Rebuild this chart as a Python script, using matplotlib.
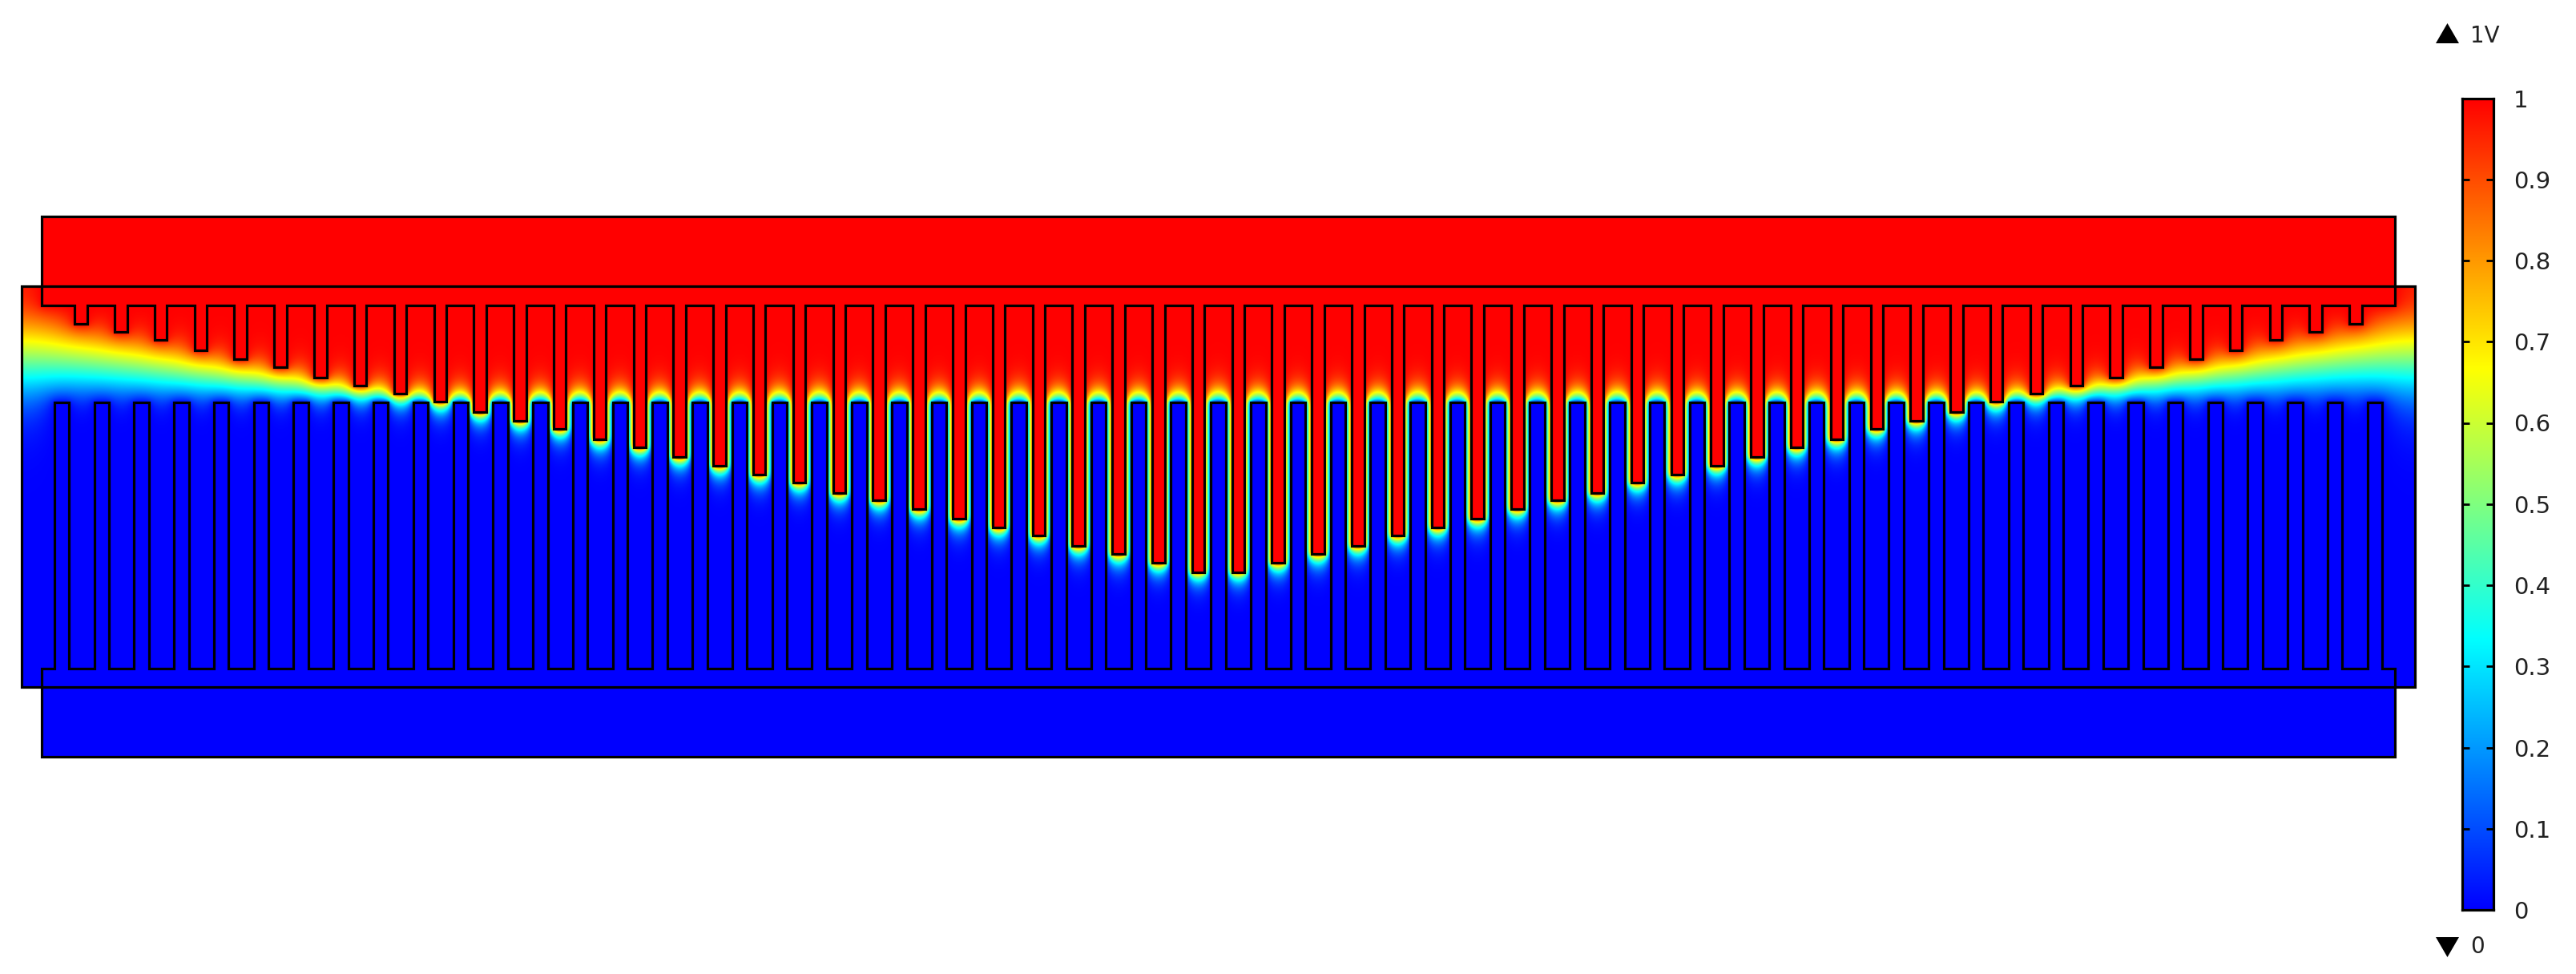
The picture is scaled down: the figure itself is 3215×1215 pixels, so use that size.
import numpy as np
import matplotlib
matplotlib.use("Agg")
import matplotlib.pyplot as plt
from matplotlib.colors import LinearSegmentedColormap
from matplotlib.patches import Polygon, Rectangle

half_tip_y = [404, 414, 424, 437, 448, 458, 471, 481, 491, 501, 514, 525, 535, 548, 558,
              570, 581, 592, 602, 615, 624, 635, 647, 658, 668, 681, 691, 702, 713.5]
top_tip_y = half_tip_y + half_tip_y[::-1]
n_top = len(top_tip_y)
n_bottom = n_top + 1
first_top_x, last_top_x = 101.0, 2940.0
first_bottom_x, last_bottom_x = 77.0, 2964.0
top_w, bottom_w = 15.5, 18.5
bottom_tip_y = 502.0
top_base_y, bottom_base_y = 381.0, 834.0
top_rect = (52.0, 2989.0, 270.0)
bottom_rect = (52.0, 2989.0, 944.0)
domain = (27.0, 3014.0, 357.0, 857.0)
cbar_ticks = [0, 0.1, 0.2, 0.3, 0.4, 0.5, 0.6, 0.7, 0.8, 0.9, 1]
cbar_ticklabels = ["0", "0.1", "0.2", "0.3", "0.4", "0.5", "0.6", "0.7", "0.8", "0.9", "1"]
max_label, min_label = "1V", "0"
potential_top, potential_bottom = 1.0, 0.0

W, H = 3215, 1215
cmap = LinearSegmentedColormap.from_list(
    "rainbow_comsol",
    [(0, (0, 0, 1)), (1 / 3, (0, 1, 1)), (2 / 3, (1, 1, 0)), (1, (1, 0, 0))], N=512)

top_cx = np.linspace(first_top_x, last_top_x, n_top)
bot_cx = np.linspace(first_bottom_x, last_bottom_x, n_bottom)


def masks(h):
    x0, x1, y0, y1 = domain
    nx, ny = int(round((x1 - x0) / h)), int(round((y1 - y0) / h))
    xc = x0 + (np.arange(nx) + 0.5) * (x1 - x0) / nx
    yc = y0 + (np.arange(ny) + 0.5) * (y1 - y0) / ny
    X, Y = np.meshgrid(xc, yc)
    top = (Y < top_base_y) & (X > top_rect[0]) & (X < top_rect[1])
    bot = (Y > bottom_base_y) & (X > bottom_rect[0]) & (X < bottom_rect[1])
    for cx, tip in zip(top_cx, top_tip_y):
        i0, i1 = np.searchsorted(xc, [cx - top_w / 2, cx + top_w / 2])
        top[:np.searchsorted(yc, tip), i0:i1] = True
    for cx in bot_cx:
        i0, i1 = np.searchsorted(xc, [cx - bottom_w / 2, cx + bottom_w / 2])
        bot[np.searchsorted(yc, bottom_tip_y):, i0:i1] = True
    return xc, yc, top, bot


def solve():
    # potential between the two electrodes, relaxed on the drawn geometry
    u = None
    prev = None
    for h, iters, omega in [(4, 1400, 1.93), (2, 350, 1.85), (1, 100, 1.7)]:
        xc, yc, top, bot = masks(h)
        if u is None:
            u = np.tile(((domain[3] - yc) / (domain[3] - domain[2]))[:, None], (1, xc.size))
        else:
            pxc, pyc = prev
            ix = np.clip(np.searchsorted(pxc, xc), 0, pxc.size - 1)
            iy = np.clip(np.searchsorted(pyc, yc), 0, pyc.size - 1)
            u = u[np.ix_(iy, ix)]
        prev = (xc, yc)
        u[top] = potential_top
        u[bot] = potential_bottom
        free = ~(top | bot)
        yy, xx = np.indices(u.shape)
        red = free & ((xx + yy) % 2 == 0)
        blk = free & ((xx + yy) % 2 == 1)
        for _ in range(iters):
            for m in (red, blk):
                p = np.pad(u, 1, mode="edge")
                nb = (p[:-2, 1:-1] + p[2:, 1:-1] + p[1:-1, :-2] + p[1:-1, 2:]) * 0.25
                u[m] += omega * (nb[m] - u[m])
    return u


field = solve()

fig = plt.figure(figsize=(W / 100, H / 100), dpi=100, facecolor="white")
ax = fig.add_axes([0, 0, 1, 1])
ax.imshow(field, extent=(domain[0], domain[1], domain[3], domain[2]), cmap=cmap, vmin=0, vmax=1,
          interpolation="bilinear", aspect="auto", zorder=1)
ax.set_xlim(0, W)
ax.set_ylim(H, 0)
ax.axis("off")

lw = 2.3
top_poly = [(top_rect[0], top_rect[2]), (top_rect[1], top_rect[2]), (top_rect[1], top_base_y)]
for cx, tip in zip(top_cx[::-1], top_tip_y[::-1]):
    top_poly += [(cx + top_w / 2, top_base_y), (cx + top_w / 2, tip),
                 (cx - top_w / 2, tip), (cx - top_w / 2, top_base_y)]
top_poly.append((top_rect[0], top_base_y))
ax.add_patch(Polygon(top_poly, closed=True, facecolor=cmap(potential_top), edgecolor="black",
                     lw=lw, joinstyle="miter", zorder=2))

bot_poly = [(bottom_rect[0], bottom_rect[2]), (bottom_rect[1], bottom_rect[2]),
            (bottom_rect[1], bottom_base_y)]
for cx in bot_cx[::-1]:
    bot_poly += [(cx + bottom_w / 2, bottom_base_y), (cx + bottom_w / 2, bottom_tip_y),
                 (cx - bottom_w / 2, bottom_tip_y), (cx - bottom_w / 2, bottom_base_y)]
bot_poly.append((bottom_rect[0], bottom_base_y))
ax.add_patch(Polygon(bot_poly, closed=True, facecolor=cmap(potential_bottom), edgecolor="black",
                     lw=lw, joinstyle="miter", zorder=2))

ax.add_patch(Rectangle((domain[0], domain[2]), domain[1] - domain[0], domain[3] - domain[2],
                       fill=False, edgecolor="black", lw=lw, joinstyle="miter", zorder=3))

ax.add_patch(Polygon([(3040, 54), (3054.5, 29), (3069, 54)], closed=True, facecolor="black",
                     edgecolor="none", zorder=3))
ax.add_patch(Polygon([(3040, 1169), (3054.5, 1194), (3069, 1169)], closed=True, facecolor="black",
                     edgecolor="none", zorder=3))
ax.text(3083, 45, max_label, fontsize=20, va="center", ha="left", color="#222222")
ax.text(3083, 1181, min_label, fontsize=20, va="center", ha="left", color="#222222")

cax = fig.add_axes([3073 / W, 1 - 1135 / H, (3112 - 3073) / W, (1135 - 122.5) / H])
grad = np.linspace(0, 1, 512)[:, None]
cax.imshow(grad, origin="lower", extent=(0, 1, 0, 1), aspect="auto", cmap=cmap, vmin=0, vmax=1)
cax.set_xticks([])
cax.set_yticks(cbar_ticks)
cax.set_yticklabels(cbar_ticklabels, fontsize=21, color="#222222")
cax.tick_params(axis="y", direction="in", left=True, right=True, labelleft=False, labelright=True,
                length=6.5, width=2.0, pad=18)
for s in cax.spines.values():
    s.set_linewidth(lw)

fig.savefig("out.png", dpi=100, facecolor="white")
